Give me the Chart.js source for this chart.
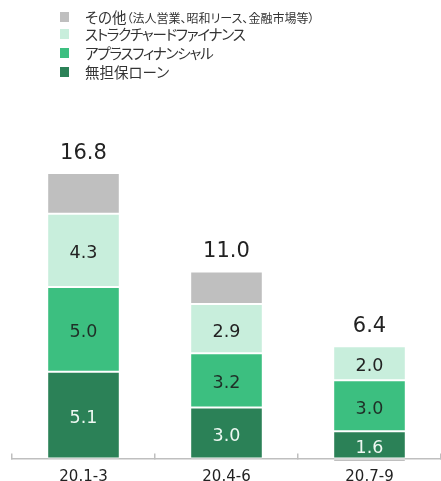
<!DOCTYPE html>
<html>
<head>
<meta charset="utf-8">
<script src="https://cdn.jsdelivr.net/npm/chart.js@4"></script>
<style>
  body { margin: 0; background: #fff; }
  #wrap { position: relative; width: 441px; height: 481px; }
  #legend { position: absolute; left: 0; top: 0; font-family: "Noto Sans CJK JP", sans-serif; font-feature-settings: "palt"; color: #333; }
  .item { position: absolute; left: 60px; white-space: nowrap; height: 18px; line-height: 18px; font-size: 14.5px; }
  .item .box { position: absolute; left: 0; top: 4px; width: 9px; height: 10px; }
  .item .txt { position: absolute; left: 25px; top: 0; }
  .item .kana { letter-spacing: -1.2px; }
  .item small { font-size: 12px; }
</style>
</head>
<body>
<div id="wrap">
  <canvas id="chart" width="441" height="481"></canvas>
  <div id="legend"></div>
</div>
<script>
// values (billion yen)
const categories = ['20.1-3', '20.4-6', '20.7-9'];
const unsecuredLoans = [5.1, 3.0, 1.6];
const aplusFinancial = [5.0, 3.2, 3.0];
const structuredFinance = [4.3, 2.9, 2.0];
const others = [2.4, 1.9, -0.2];
const totals = [16.8, 11.0, 6.4];

const seriesNames = ['無担保ローン', 'アプラスフィナンシャル', 'ストラクチャードファイナンス', 'その他'];
const othersNote = '（法人営業、昭和リース、金融市場等）';
const seriesColors = ['#2b8157', '#3cbf80', '#c8eedc', '#bfbfbf'];
const labelColors = ['#eef8f2', '#1f2f27', '#222222', null];

const seriesData = [unsecuredLoans, aplusFinancial, structuredFinance, others];

// value labels inside segments + totals above stacks
const barLabels = {
  id: 'barLabels',
  afterDatasetsDraw(chart) {
    const ctx = chart.ctx;
    ctx.save();
    ctx.textAlign = 'center';
    ctx.textBaseline = 'middle';
    const tops = [];
    chart.data.datasets.forEach((ds, i) => {
      const meta = chart.getDatasetMeta(i);
      meta.data.forEach((bar, j) => {
        const p = bar.getProps(['x', 'y', 'base'], true);
        const v = ds.data[j];
        if (v > 0) tops[j] = tops[j] === undefined ? p.y : Math.min(tops[j], p.y);
        if (!labelColors[i]) return;
        ctx.fillStyle = labelColors[i];
        ctx.font = '17.5px "DejaVu Sans"';
        ctx.fillText(v.toFixed(1), p.x, (p.y + p.base) / 2 + 3.5);
      });
    });
    const xs = chart.getDatasetMeta(0).data.map(b => b.x);
    ctx.fillStyle = '#222';
    ctx.font = '21px "DejaVu Sans"';
    totals.forEach((t, j) => {
      ctx.fillText(t.toFixed(1), xs[j], tops[j] - 20);
    });
    ctx.restore();
  }
};

const chart = new Chart(document.getElementById('chart'), {
  type: 'bar',
  data: {
    labels: categories,
    datasets: seriesData.map((d, i) => ({
      label: seriesNames[i],
      data: d,
      backgroundColor: seriesColors[i],
      borderColor: '#ffffff',
      borderWidth: { top: 1, bottom: 1, left: 0, right: 0 },
      borderSkipped: false,
      categoryPercentage: 1,
      barPercentage: 0.495,
      clip: false
    }))
  },
  options: {
    responsive: false,
    animation: false,
    layout: { padding: { left: 12, right: 0, top: 100, bottom: -20.5 } },
    plugins: {
      legend: { display: false },
      tooltip: { enabled: false }
    },
    scales: {
      x: {
        stacked: true,
        grid: { drawOnChartArea: false, tickLength: -5, color: '#bfbfbf', lineWidth: 1.5 },
        border: { color: '#bfbfbf', width: 1.5 },
        ticks: { color: '#222', font: { family: 'DejaVu Sans', size: 15 }, padding: 15 }
      },
      y: {
        stacked: true,
        display: false,
        min: 0,
        max: 21.1
      }
    }
  },
  plugins: [barLabels]
});

// legend, top series first
const legend = document.getElementById('legend');
const rowTops = [8, 25, 44, 63];
[3, 2, 1, 0].forEach((i, r) => {
  const row = document.createElement('div');
  row.className = 'item';
  row.style.top = rowTops[r] + 'px';
  const box = document.createElement('span');
  box.className = 'box';
  box.style.background = seriesColors[i];
  const txt = document.createElement('span');
  txt.className = 'txt';
  if (i === 1 || i === 2) txt.classList.add('kana');
  txt.textContent = seriesNames[i];
  if (i === 3) {
    const s = document.createElement('small');
    s.textContent = othersNote;
    txt.appendChild(s);
  }
  row.appendChild(box);
  row.appendChild(txt);
  legend.appendChild(row);
});
</script>
</body>
</html>
